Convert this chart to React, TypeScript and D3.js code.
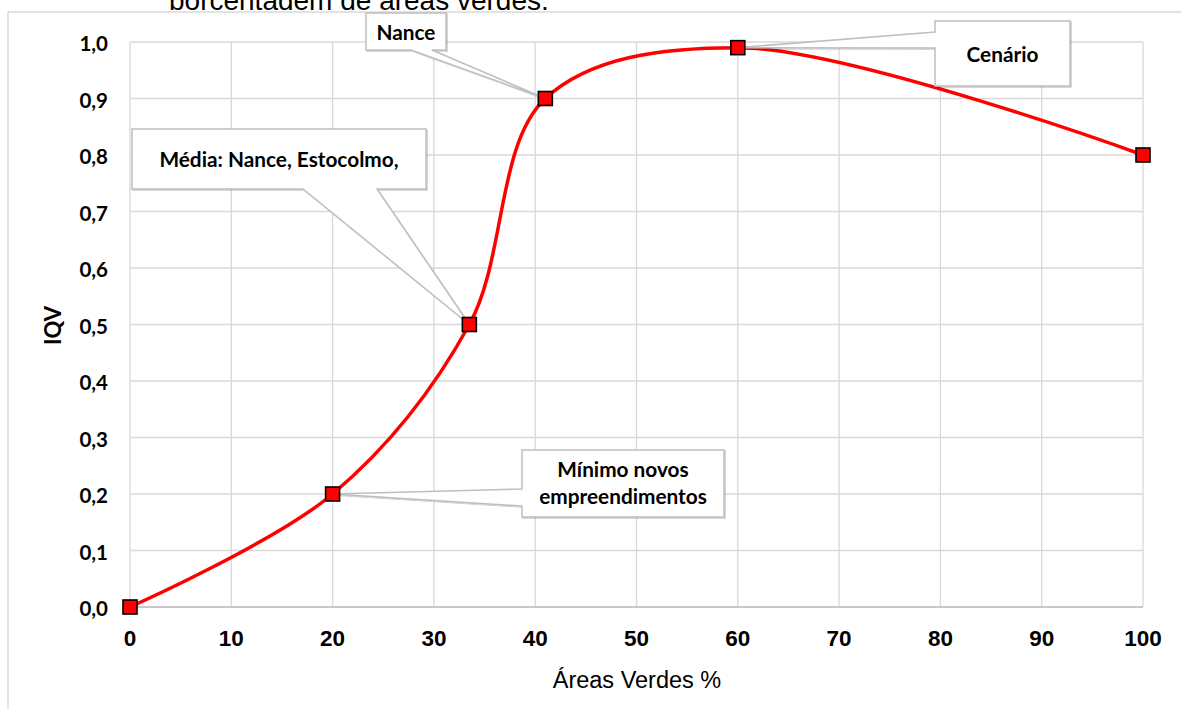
import React from 'react';
import * as d3 from 'd3';

// ---- data ----
const xValues = [0, 20, 33.5, 41, 60, 100];
const yValues = [0, 0.2, 0.5, 0.9, 0.99, 0.8];
const xTicks = [0, 10, 20, 30, 40, 50, 60, 70, 80, 90, 100];
const yTicks = [0, 0.1, 0.2, 0.3, 0.4, 0.5, 0.6, 0.7, 0.8, 0.9, 1.0];
const titleText = 'porcentagem de áreas verdes.';
const xTitle = 'Áreas Verdes %';
const yTitle = 'IQV';
const calloutLabels = [['Nance'], ['Cenário'], ['Média: Nance, Estocolmo,'], ['Mínimo novos', 'empreendimentos']];
const calloutPoints = [3, 4, 2, 1];

// ---- layout ----
const W = 1181;
const H = 709;
const plot = { left: 130, right: 1143, top: 42, bottom: 607 };
const calloutBoxes = [
  { box: [366, 13, 446, 50], side: 'bottom', base: [411, 432], lines: [39.5] },
  { box: [935, 21, 1070, 86], side: 'left', base: [32, 48], lines: [62] },
  { box: [132, 129, 426, 189], side: 'bottom', base: [303, 377], lines: [167] },
  { box: [522, 450, 724, 517], side: 'left', base: [489, 506], lines: [477, 504] },
];

const CAL = 'Lato, "Open Sans", sans-serif';
const ARIAL = '"Liberation Sans", Arial, sans-serif';

export default function App() {
  const x = d3.scaleLinear().domain([0, 100]).range([plot.left, plot.right]);
  const y = d3.scaleLinear().domain([0, 1]).range([plot.bottom, plot.top]);
  const pts: [number, number][] = xValues.map((v, i) => [x(v), y(yValues[i])]);
  const line = d3.line().curve(d3.curveCatmullRom.alpha(0.5))(pts) as string;
  const fmt = (v: number) => d3.format('.1f')(v).replace('.', ',');

  const calloutPath = (c: any, tip: [number, number]) => {
    const [x0, y0, x1, y1] = c.box;
    const [a, b] = c.base;
    if (c.side === 'bottom') {
      return `M${x0},${y0}H${x1}V${y1}H${b}L${tip[0]},${tip[1]}L${a},${y1}H${x0}Z`;
    }
    return `M${x0},${y0}H${x1}V${y1}H${x0}V${b}L${tip[0]},${tip[1]}L${x0},${a}Z`;
  };

  return (
    <svg width={W} height={H} style={{ position: 'absolute', left: 0, top: 0, background: '#fff' }}>
      <defs>
        <filter id="sh" x="-10%" y="-10%" width="130%" height="130%">
          <feDropShadow dx="1" dy="1" stdDeviation="0.7" floodColor="#000" floodOpacity="0.22" />
        </filter>
      </defs>
      <text x={169} y={9.5} fontFamily={ARIAL} fontSize={28} fill="#000">{titleText}</text>
      <rect x={8} y={10} width={W} height={H} fill="#fff" />
      <line x1={8} x2={W} y1={12} y2={12} stroke="#d9d9d9" strokeWidth={1.5} />
      <line x1={8} x2={8} y1={12} y2={H} stroke="#d9d9d9" strokeWidth={1.5} />

      {xTicks.map((t) => (
        <line key={'gx' + t} x1={x(t)} x2={x(t)} y1={plot.top} y2={plot.bottom} stroke="#d9d9d9" strokeWidth={1.3} />
      ))}
      {yTicks.map((t) => (
        <line key={'gy' + t} x1={plot.left} x2={plot.right} y1={y(t)} y2={y(t)} stroke="#d9d9d9" strokeWidth={1.3} />
      ))}
      <line x1={plot.left} x2={plot.right} y1={plot.bottom} y2={plot.bottom} stroke="#bfbfbf" strokeWidth={1.6} />

      {xTicks.map((t) => (
        <text key={'tx' + t} x={x(t)} y={646} textAnchor="middle" fontFamily={ARIAL} fontWeight="bold" fontSize={22.5} fill="#000">{t}</text>
      ))}
      {yTicks.map((t) => (
        <text key={'ty' + t} x={108} y={y(t) + 9} textAnchor="end" fontFamily={CAL} fontWeight="bold" fontSize={20.5} fill="#000">{fmt(t)}</text>
      ))}

      <text x={637} y={688} textAnchor="middle" fontFamily={ARIAL} fontSize={23.5} fill="#000">{xTitle}</text>
      <text transform={`translate(61,${(plot.top + plot.bottom) / 2 + 1}) rotate(-90)`} textAnchor="middle" fontFamily={CAL} fontWeight="bold" fontSize={22} fill="#000">{yTitle}</text>

      <path d={line} fill="none" stroke="#ff0000" strokeWidth={3.5} />

      {calloutBoxes.map((c, i) => {
        const tip = pts[calloutPoints[i]];
        const [x0, , x1] = c.box;
        return (
          <g key={'c' + i}>
            <path d={calloutPath(c, tip)} fill="#fff" stroke="#bfbfbf" strokeWidth={1.5} filter="url(#sh)" />
            {calloutLabels[i].map((l, j) => (
              <text key={j} x={(x0 + x1) / 2} y={c.lines[j]} textAnchor="middle" fontFamily={CAL} fontWeight="bold" fontSize={20.8} fill="#000">{l}</text>
            ))}
          </g>
        );
      })}

      {pts.map((p, i) => (
        <rect key={'m' + i} x={p[0] - 7} y={p[1] - 7} width={14} height={14} fill="#ff0000" stroke="#000" strokeWidth={1.6} />
      ))}
    </svg>
  );
}
